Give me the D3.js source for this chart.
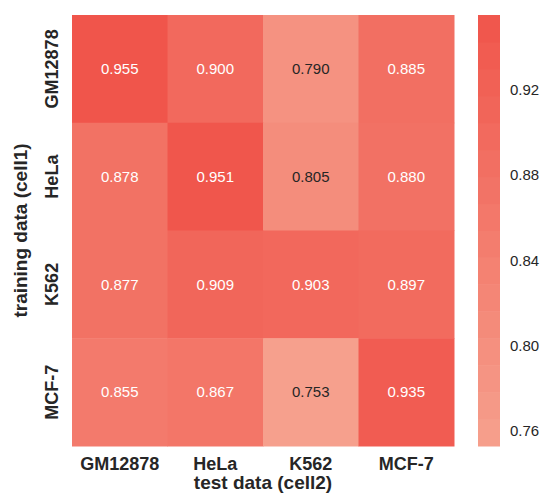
<!DOCTYPE html>
<html>
<head>
<meta charset="utf-8">
<script src="https://cdn.jsdelivr.net/npm/d3@7"></script>
<style>
  body { margin: 0; background: #fff; }
  text { font-family: "Liberation Sans", Arial, sans-serif; }
</style>
</head>
<body>
<div id="chart"></div>
<script>
const width = 543;
const height = 497;

const trainCells = ["GM12878", "HeLa", "K562", "MCF-7"];
const testCells = ["GM12878", "HeLa", "K562", "MCF-7"];
// rows = training cell, columns = test cell
const scores = [
    [0.955, 0.900, 0.790, 0.885],
    [0.878, 0.951, 0.805, 0.880],
    [0.877, 0.909, 0.903, 0.897],
    [0.855, 0.867, 0.753, 0.935]
];
const barTicks = [0.76, 0.80, 0.84, 0.88, 0.92];

const plotLeft = 72, plotTop = 15, plotRight = 454, plotBottom = 446;

const x = d3.scaleBand().domain(testCells).range([plotLeft, plotRight]);
const y = d3.scaleBand().domain(trainCells).range([plotTop, plotBottom]);

const vmin = 0.753, vmax = 0.955;
const color = d3.scaleLinear()
    .domain([vmin, vmax])
    .range(["#f6a08d", "#f0554b"])
    .interpolate(d3.interpolateRgb);

const svg = d3.select("#chart").append("svg")
    .attr("width", width)
    .attr("height", height);

const cells = [];
scores.forEach((row, i) => row.forEach((v, j) => {
    cells.push({ train: trainCells[i], test: testCells[j], value: v });
}));

svg.selectAll(".cell")
    .data(cells)
    .enter().append("rect")
    .attr("class", "cell")
    .attr("x", d => x(d.test))
    .attr("y", d => y(d.train))
    .attr("width", x.bandwidth() + 0.5)
    .attr("height", y.bandwidth() + 0.5)
    .style("fill", d => color(d.value));

svg.selectAll(".val")
    .data(cells)
    .enter().append("text")
    .attr("class", "val")
    .attr("x", d => x(d.test) + x.bandwidth() / 2)
    .attr("y", d => y(d.train) + y.bandwidth() / 2)
    .attr("dy", "0.35em")
    .style("text-anchor", "middle")
    .style("font-size", "15px")
    .style("fill", d => d.value < 0.82 ? "#262626" : "#ffffff")
    .text(d => d3.format(".3f")(d.value));

// x tick labels
svg.selectAll(".xlab")
    .data(testCells)
    .enter().append("text")
    .attr("x", d => x(d) + x.bandwidth() / 2)
    .attr("y", 470)
    .style("text-anchor", "middle")
    .style("font-size", "18px")
    .style("font-weight", "bold")
    .style("fill", "#262626")
    .text(d => d);

// y tick labels
svg.selectAll(".ylab")
    .data(trainCells)
    .enter().append("text")
    .attr("transform", d => "translate(58," + (y(d) + y.bandwidth() / 2) + ") rotate(-90)")
    .style("text-anchor", "middle")
    .style("font-size", "18px")
    .style("font-weight", "bold")
    .style("fill", "#262626")
    .text(d => d);

svg.append("text")
    .attr("x", (plotLeft + plotRight) / 2)
    .attr("y", 489)
    .style("text-anchor", "middle")
    .style("font-size", "19px")
    .style("font-weight", "bold")
    .style("fill", "#262626")
    .text("test data (cell2)");

svg.append("text")
    .attr("transform", "translate(27," + (plotTop + plotBottom) / 2 + ") rotate(-90)")
    .style("text-anchor", "middle")
    .style("font-size", "19px")
    .style("font-weight", "bold")
    .style("fill", "#262626")
    .text("training data (cell1)");

// colorbar, drawn as discrete bands
const cb = d3.scaleLinear().domain([vmin, vmax]).range([plotBottom, plotTop]);
const nBands = 16;
const bands = d3.range(nBands).map(k => vmin + (vmax - vmin) * k / nBands);
const step = (vmax - vmin) / nBands;
svg.selectAll(".band")
    .data(bands)
    .enter().append("rect")
    .attr("x", 478)
    .attr("y", d => cb(d + step))
    .attr("width", 22)
    .attr("height", d => cb(d) - cb(d + step) + 0.5)
    .style("fill", d => color(d + step / 2));

svg.selectAll(".cbtick")
    .data(barTicks)
    .enter().append("text")
    .attr("x", 510)
    .attr("y", d => cb(d))
    .attr("dy", "0.35em")
    .style("font-size", "15px")
    .style("fill", "#262626")
    .text(d => d3.format(".2f")(d));
</script>
</body>
</html>
